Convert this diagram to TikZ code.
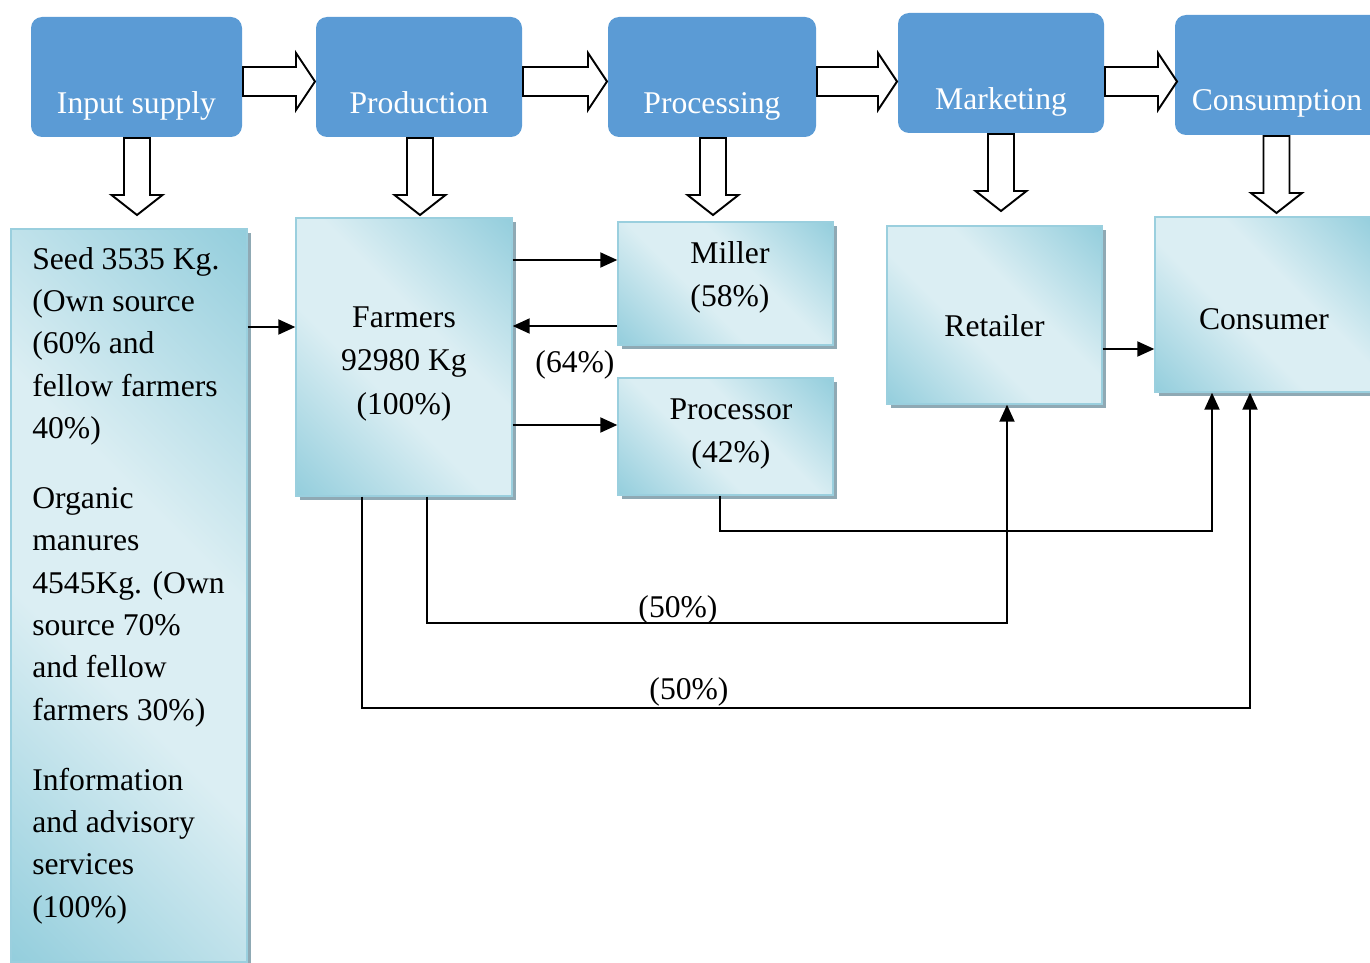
\documentclass[tikz,border=0pt]{standalone}
\usepackage{fontspec}
\setmainfont{Liberation Serif}
\usetikzlibrary{arrows.meta,shadows,calc}

\definecolor{hdrblue}{HTML}{5B9BD5}
\definecolor{tdark}{HTML}{92CDDC}
\definecolor{tlight}{HTML}{DBEEF3}
\definecolor{tborder}{HTML}{9ACFDE}
\definecolor{shadowc}{HTML}{8FA9B4}

% diagonal tint: dark at two opposite corners, light along the other diagonal
% (with a 45 degree angle the box corners fall at about 15bp and 85bp)
\pgfdeclarehorizontalshading{tealtint}{100bp}{color(0bp)=(tdark); color(14bp)=(tdark); color(42bp)=(tlight); color(58bp)=(tlight); color(86bp)=(tdark); color(100bp)=(tdark)}

\newcommand{\pxu}{0.02cm}
% right-pointing block arrow: x start, x tip, y centre
\newcommand{\rblock}[3]{\draw[blockarrow] (#1,#3-14.5) -- (#2-19,#3-14.5) -- (#2-19,#3-28.5) -- (#2,#3) -- (#2-19,#3+28.5) -- (#2-19,#3+14.5) -- (#1,#3+14.5) -- cycle;}
% down-pointing block arrow: x centre, y start, y tip
\newcommand{\dblock}[3]{\draw[blockarrow] (#1-13,#2) -- (#1-13,#3-20) -- (#1-25.5,#3-20) -- (#1,#3) -- (#1+25.5,#3-20) -- (#1+13,#3-20) -- (#1+13,#2) -- cycle;}

\tikzset{
  hdr/.style={fill=hdrblue, rounded corners=0.22cm, minimum height=120*\pxu, inner sep=0},
  hdrtext/.style={text=white, font=\fontsize{18}{22}\selectfont, text height=12.3pt, text depth=0pt, yshift=-26*\pxu},
  tbox/.style={shading=tealtint, shading angle=45, draw=tborder, line width=0.8pt,
    drop shadow={shadow xshift=0.08cm, shadow yshift=-0.08cm, fill=shadowc, opacity=1},
    inner sep=0},
  btext/.style={align=center, font=\fontsize{18}{24.5}\selectfont},
  lbl/.style={font=\fontsize{18}{22}\selectfont, inner sep=0},
  blockarrow/.style={draw=black, fill=white, line width=1.1pt, line join=miter},
  conn/.style={line width=1.1pt, -{Triangle[length=0.34cm,width=0.3cm]}},
}

\begin{document}
\begin{tikzpicture}[x=0.02cm, y=-0.02cm]
\useasboundingbox (0,0) rectangle (1370,963);

% stage headers
\node[hdr, minimum width=211*\pxu, label={[hdrtext]center:Input supply}] (hIn) at (136.5,77) {};
\node[hdr, minimum width=206*\pxu, label={[hdrtext]center:Production}] (hProd) at (419,77) {};
\node[hdr, minimum width=208*\pxu, label={[hdrtext]center:Processing}] (hProc) at (712,77) {};
\node[hdr, minimum width=206*\pxu, label={[hdrtext]center:Marketing}] (hMkt) at (1001,73) {};
\node[hdr, minimum width=206*\pxu, label={[hdrtext, yshift=1*\pxu, xshift=-1*\pxu]center:Consumption}] (hCons) at (1278,75) {};

% block arrows between stages
\rblock{243}{315}{81.5}
\rblock{523}{607}{81.5}
\rblock{817}{897}{81.5}
\rblock{1105}{1177}{81.5}

% block arrows down to the actors
\dblock{137}{138}{215}
\dblock{420}{138}{215}
\dblock{713}{138}{215}
\dblock{1001}{134}{211}
\dblock{1276.5}{136}{213}

% actors
\node[tbox, minimum width=236*\pxu, minimum height=733*\pxu] (inputs) at (129,595.5) {};
\node[tbox, minimum width=216*\pxu, minimum height=278*\pxu,
  label={[btext, yshift=-0.14cm]center:Farmers\\92980 Kg\\(100\%)}] (farm) at (404,357) {};
\node[tbox, minimum width=215*\pxu, minimum height=123*\pxu,
  label={[btext, yshift=0.13cm, xshift=0.09cm]center:Miller\\(58\%)}] (mill) at (725.5,283.5) {};
\node[tbox, minimum width=215*\pxu, minimum height=117*\pxu,
  label={[btext, yshift=0.05cm, xshift=0.11cm]center:Processor\\(42\%)}] (proc) at (725.5,436.5) {};
\node[tbox, minimum width=215*\pxu, minimum height=178*\pxu,
  label={[btext, yshift=-0.22cm]center:Retailer}] (ret) at (994.5,315) {};
\node[tbox, minimum width=220*\pxu, minimum height=175*\pxu,
  label={[btext, yshift=-0.29cm, xshift=-0.02cm]center:Consumer}] (cons) at (1265,304.5) {};

% inputs list
\node[anchor=north west, align=left, inner sep=0, font=\fontsize{18}{24.1}\selectfont] (inlist) at (32,247)
  {Seed 3535 Kg.\\(Own source\\(60\% and\\fellow farmers\\40\%)\\[0.55cm]
   Organic\\manures\\4545Kg. (Own\\source 70\%\\and fellow\\farmers 30\%)\\[0.55cm]
   Information\\and advisory\\services\\(100\%)};

% routing rows and columns
\coordinate (rA) at (0,327);
\coordinate (rB) at (0,260);
\coordinate (rC) at (0,326);
\coordinate (rD) at (0,425);
\coordinate (rE) at (0,349);
\coordinate (rF) at (0,531);
\coordinate (rG) at (0,623);
\coordinate (rH) at (0,708);
\coordinate (cF1) at (362,0);
\coordinate (cF2) at (427,0);
\coordinate (cP) at (720,0);
\coordinate (cR) at (1007,0);
\coordinate (cC1) at (1212,0);
\coordinate (cC2) at (1250,0);

% flows
\draw[conn] (inputs.east |- rA) -- (farm.west |- rA);
\draw[conn] (farm.east |- rB) -- (mill.west |- rB);
\draw[conn] (mill.west |- rC) -- (farm.east |- rC);
\draw[conn] (farm.east |- rD) -- (proc.west |- rD);
\draw[conn] (ret.east |- rE) -- (cons.west |- rE);
\draw[conn] (proc.south -| cP) -- (cP |- rF) -- (cC1 |- rF) -- (cons.south -| cC1);
\draw[conn] (farm.south -| cF2) -- (cF2 |- rG) -- (cR |- rG) -- (ret.south -| cR);
\draw[conn] (farm.south -| cF1) -- (cF1 |- rH) -- (cC2 |- rH) -- (cons.south -| cC2);

% shares
\node[lbl] (l64) at (575,365) {(64\%)};
\node[lbl] (l50a) at (678,610) {(50\%)};
\node[lbl] (l50b) at (689,692) {(50\%)};
\end{tikzpicture}
\end{document}
